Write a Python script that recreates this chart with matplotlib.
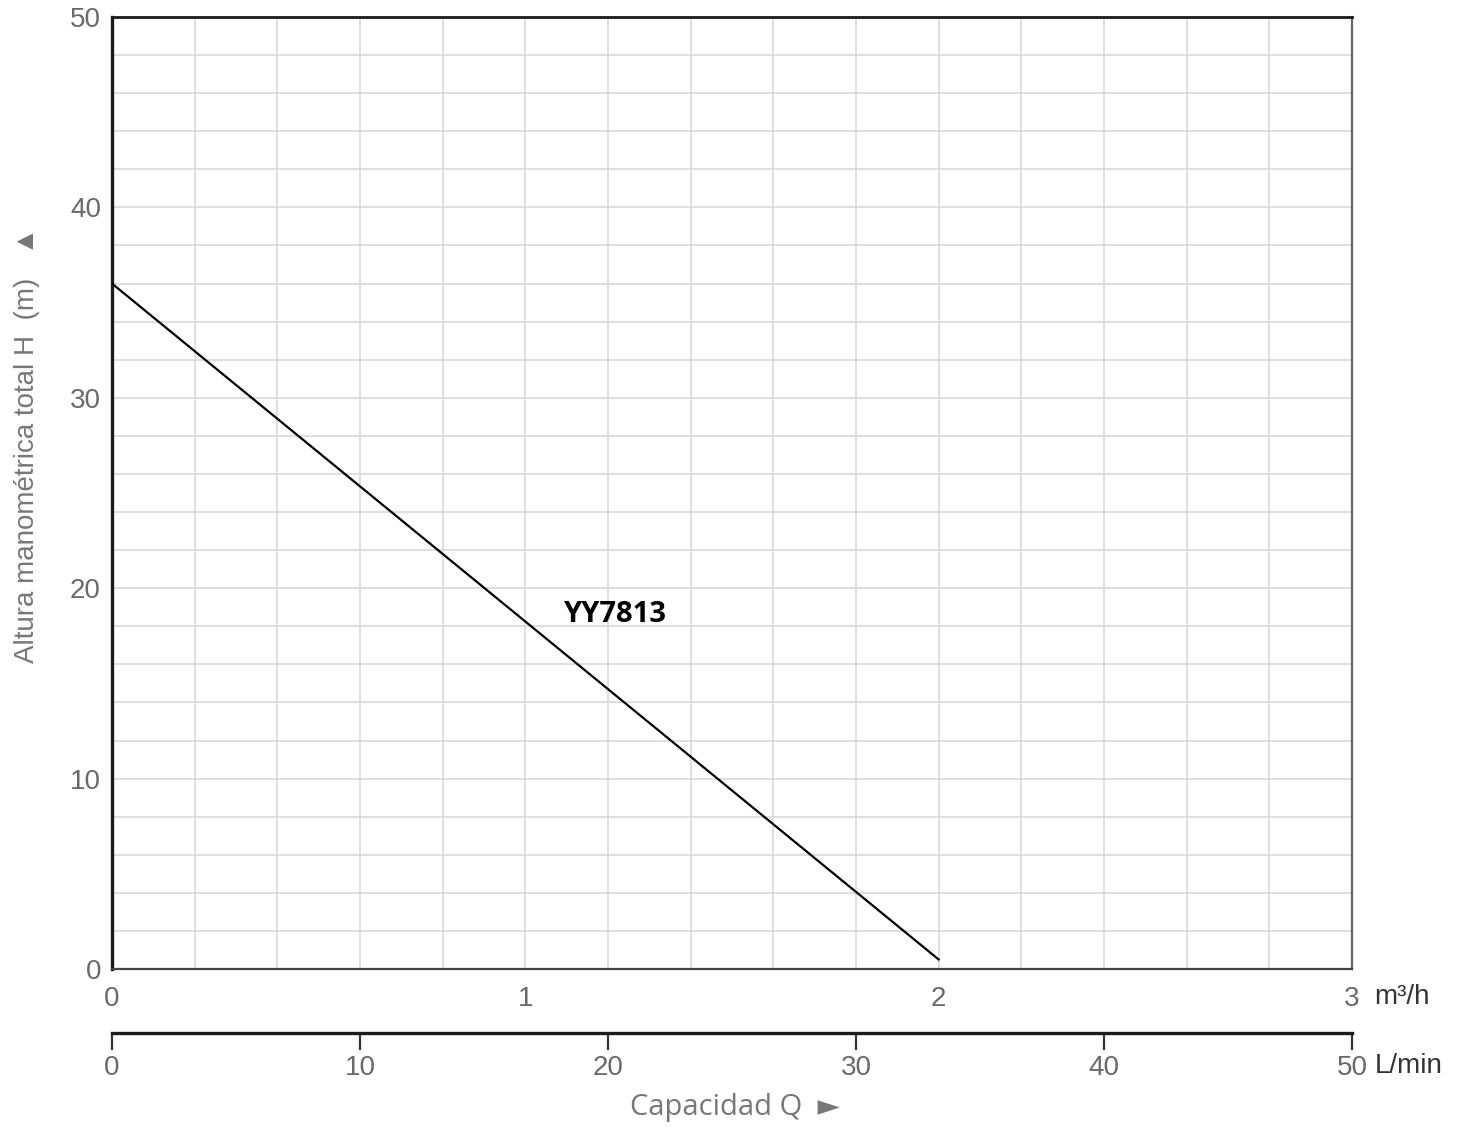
import matplotlib
matplotlib.use("Agg")
from matplotlib import pyplot as plt
from matplotlib.ticker import MultipleLocator
import numpy as np

# curva de la bomba YY7813
q_m3h = [0.0, 2.0]      # capacidad Q (m3/h)
h_m = [36.0, 0.5]       # altura H (m)
curve_name = "YY7813"

q_ticks = [0, 1, 2, 3]
l_ticks = [0, 10, 20, 30, 40, 50]
h_ticks = [0, 10, 20, 30, 40, 50]

narrow = ["Liberation Sans", "DejaVu Sans"]
grey = "#6a6a6a"

fig = plt.figure(figsize=(14.62, 11.27), dpi=100)
W, H = 1462, 1127
ax = fig.add_axes([112 / W, (H - 969) / H, 1240 / W, 952 / H])

ax.plot(q_m3h, h_m, color="black", lw=1.6, zorder=3)
ax.text(1.09, 18.6, curve_name, fontsize=21, fontweight="bold",
        family=["Open Sans", "DejaVu Sans"], ha="left", va="center", zorder=4)

ax.set_xlim(0, 3)
ax.set_ylim(0, 50)
ax.set_xticks(q_ticks)
ax.set_yticks(h_ticks)
ax.xaxis.set_minor_locator(MultipleLocator(0.2))
ax.yaxis.set_minor_locator(MultipleLocator(2))
ax.grid(which="both", color="#d6d6d6", lw=1.1, zorder=0)
ax.tick_params(which="both", length=0)
ax.tick_params(axis="x", pad=12, labelsize=20, labelcolor=grey)
ax.tick_params(axis="y", pad=8, labelsize=20, labelcolor=grey)
for lab in ax.get_xticklabels() + ax.get_yticklabels():
    lab.set_family(narrow)

ax.spines["left"].set_linewidth(2.4)
ax.spines["left"].set_color("#1a1a1a")
ax.spines["top"].set_linewidth(2.0)
ax.spines["top"].set_color("#1a1a1a")
ax.spines["bottom"].set_linewidth(1.6)
ax.spines["bottom"].set_color("#444444")
ax.spines["right"].set_linewidth(1.6)
ax.spines["right"].set_color("#666666")

# segundo eje en L/min
sec = ax.secondary_xaxis(-64 / 952, functions=(lambda q: q * 1000 / 60,
                                                lambda l: l * 60 / 1000))
sec.set_xticks(l_ticks)
sec.spines["bottom"].set_linewidth(2.4)
sec.spines["bottom"].set_color("#1a1a1a")
sec.tick_params(length=12, width=1.6, color="#333333", pad=4,
                labelsize=20, labelcolor=grey)
for lab in sec.get_xticklabels():
    lab.set_family(narrow)

ax.text(1.018, -28 / 952, "m³/h", transform=ax.transAxes, fontsize=20,
        color="#333333", family=narrow, ha="left", va="center")
ax.text(1.018, -97 / 952, "L/min", transform=ax.transAxes, fontsize=20,
        color="#333333", family=narrow, ha="left", va="center")

fig.text(735 / W, 1 - 1108 / H, "Capacidad Q  ►", fontsize=21, color="#777777",
         family=["Open Sans", "DejaVu Sans"], ha="center", va="center")
fig.text(27 / W, 1 - 445 / H, "Altura manométrica total H  (m)   ▲", fontsize=20,
         color="#777777", family=narrow, rotation=90, ha="center", va="center")

fig.savefig("out.png", dpi=100)
